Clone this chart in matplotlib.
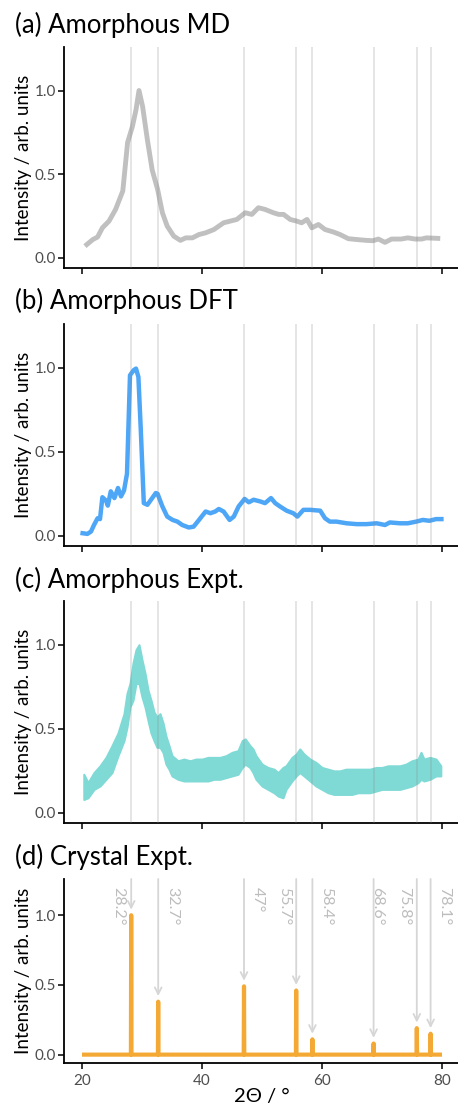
import matplotlib
matplotlib.use("Agg")
import matplotlib.pyplot as plt
import numpy as np

plt.rcParams['font.family'] = ['Lato', 'DejaVu Sans']

# ---- data ----
peak_pos = [28.2, 32.7, 47, 55.7, 58.4, 68.6, 75.8, 78.1]
peak_int = [1.0, 0.38, 0.49, 0.46, 0.11, 0.08, 0.19, 0.15]
peak_labels = ["28.2°", "32.7°", "47°", "55.7°", "58.4°", "68.6°", "75.8°", "78.1°"]
label_side = ["l", "r", "r", "l", "r", "c", "l", "r"]

md_x = [20.8, 21.8, 22.6, 23.4, 24.5, 25.6, 26.8, 27.6, 28.4, 29.0, 29.5, 30.1, 30.9,
        31.7, 32.6, 33.4, 34.2, 35.3, 36.4, 37.3, 38.4, 39.5, 40.6, 42.0, 43.6, 44.7,
        45.8, 47.2, 48.3, 49.4, 50.5, 51.9, 52.8, 53.6, 54.7, 55.8, 56.6, 57.5, 58.3,
        59.4, 60.5, 61.9, 63.0, 64.4, 65.8, 67.4, 68.5, 69.4, 70.5, 71.6, 73.2, 74.3,
        75.5, 76.6, 77.4, 79.3]
md_y = [0.08, 0.11, 0.125, 0.18, 0.22, 0.29, 0.40, 0.69, 0.785, 0.885, 1.0, 0.905, 0.705,
        0.525, 0.41, 0.27, 0.19, 0.13, 0.105, 0.12, 0.12, 0.14, 0.15, 0.17, 0.21, 0.22,
        0.23, 0.27, 0.26, 0.30, 0.29, 0.27, 0.26, 0.26, 0.23, 0.22, 0.21, 0.23, 0.18,
        0.20, 0.17, 0.155, 0.14, 0.115, 0.11, 0.105, 0.103, 0.113, 0.093, 0.113, 0.113, 0.12,
        0.113, 0.113, 0.12, 0.117]

dft_x = [20.1, 20.9, 21.5, 22.0, 22.6, 23.0, 23.4, 24.0, 24.3, 24.8, 25.4, 26.0, 26.5,
         27.0, 27.5, 28.0, 28.6, 29.0, 29.4, 29.8, 30.3, 30.9, 31.5, 32.3, 32.6, 33.4,
         34.2, 35.1, 35.9, 36.7, 37.8, 38.6, 39.5, 40.6, 41.4, 42.2, 42.8, 43.6, 44.6,
         45.3, 46.1, 47.1, 47.8, 48.6, 49.7, 50.5, 51.5, 52.2, 53.0, 54.1, 55.2, 55.9,
         56.9, 58.0, 59.7, 60.5, 61.3, 62.4, 64.1, 65.8, 67.4, 69.1, 70.5, 71.3, 73.0,
         74.3, 75.7, 76.8, 77.9, 79.0, 79.9]
dft_y = [0.016, 0.012, 0.026, 0.065, 0.105, 0.10, 0.23, 0.21, 0.18, 0.265, 0.225, 0.285, 0.235,
         0.27, 0.37, 0.955, 0.985, 0.995, 0.945, 0.63, 0.195, 0.185, 0.215, 0.255, 0.25, 0.175,
         0.115, 0.095, 0.085, 0.065, 0.05, 0.055, 0.095, 0.145, 0.135, 0.145, 0.16, 0.145, 0.095,
         0.115, 0.175, 0.22, 0.20, 0.215, 0.205, 0.195, 0.225, 0.195, 0.175, 0.15, 0.135, 0.115,
         0.155, 0.155, 0.15, 0.105, 0.085, 0.085, 0.075, 0.07, 0.07, 0.075, 0.065, 0.08, 0.075,
         0.075, 0.085, 0.095, 0.09, 0.10, 0.10]

# experimental amorphous pattern: noisy band (upper / lower envelope)
exp_x = [20.3, 21, 22, 23, 24, 25, 26, 27, 27.5, 28, 28.5, 29, 29.5, 30, 30.5, 31, 31.5,
         32, 32.5, 33, 33.5, 34, 34.5, 35, 36, 37, 38, 39, 40, 41, 42, 43, 44, 45, 46,
         46.7, 47.2, 48, 48.5, 49, 50, 51, 52, 52.7, 53.5, 54, 55, 55.7, 56.3, 57, 58,
         59, 60, 61, 62, 63, 64, 65, 66, 67, 68, 69, 70, 71, 72, 73, 74, 75, 76, 76.5,
         77, 78, 79, 79.8]
exp_hi = [0.23, 0.18, 0.24, 0.28, 0.33, 0.40, 0.475, 0.59, 0.71, 0.77, 0.89, 0.97, 1.0, 0.91,
          0.83, 0.73, 0.67, 0.60, 0.57, 0.59, 0.535, 0.455, 0.40, 0.34, 0.31, 0.32, 0.31, 0.32,
          0.32, 0.33, 0.33, 0.33, 0.34, 0.36, 0.37, 0.43, 0.44, 0.40, 0.38, 0.34, 0.29, 0.27,
          0.26, 0.24, 0.27, 0.28, 0.33, 0.35, 0.38, 0.35, 0.32, 0.30, 0.27, 0.26, 0.25, 0.25,
          0.26, 0.26, 0.26, 0.26, 0.26, 0.27, 0.27, 0.28, 0.28, 0.28, 0.29, 0.31, 0.32, 0.36,
          0.32, 0.33, 0.32, 0.28]
exp_lo = [0.08, 0.09, 0.14, 0.16, 0.20, 0.24, 0.34, 0.43, 0.51, 0.63, 0.67, 0.77, 0.77, 0.69,
          0.63, 0.55, 0.475, 0.43, 0.39, 0.39, 0.36, 0.29, 0.26, 0.22, 0.20, 0.19, 0.19, 0.19,
          0.19, 0.19, 0.20, 0.20, 0.21, 0.22, 0.23, 0.27, 0.29, 0.27, 0.24, 0.20, 0.16, 0.14,
          0.12, 0.10, 0.09, 0.14, 0.19, 0.22, 0.24, 0.22, 0.19, 0.16, 0.14, 0.12, 0.11, 0.11,
          0.11, 0.11, 0.12, 0.12, 0.12, 0.13, 0.14, 0.14, 0.14, 0.14, 0.15, 0.16, 0.18, 0.20,
          0.19, 0.20, 0.22, 0.22]

titles = ["(a) Amorphous MD", "(b) Amorphous DFT", "(c) Amorphous Expt.", "(d) Crystal Expt."]

W, H = 458, 1109
fig = plt.figure(figsize=(W / 100, H / 100), dpi=100)

boxes = [(47, 268), (324, 546), (601, 823), (879, 1063)]  # top, bottom in px
title_base = [33, 309, 588, 865]
left_px, right_px = 64, 460

axes = []
for i, (t, b) in enumerate(boxes):
    ax = fig.add_axes([left_px / W, 1 - b / H, (right_px - left_px) / W, (b - t) / H])
    ax.set_xlim(17, 83)
    ax.set_ylim(-0.06, 1.26)
    ax.set_xticks([20, 40, 60, 80])
    ax.set_yticks([0.0, 0.5, 1.0])
    ax.set_yticklabels(["0.0", "0.5", "1.0"])
    for s in ['top', 'right']:
        ax.spines[s].set_visible(False)
    for s in ['left', 'bottom']:
        ax.spines[s].set_linewidth(1.3)
        ax.spines[s].set_color('black')
    ax.tick_params(length=4, width=1.1, color='black', labelcolor='#4d4d4d', labelsize=11, pad=2)
    ax.tick_params(axis='x', pad=4)
    if i < 3:
        ax.tick_params(axis='x', labelbottom=False)
        # reference lines drawn over the data, semi-transparent
        for p in peak_pos:
            ax.axvline(p, color='#8a8a8a', alpha=0.22, lw=1.4, zorder=4)
    ax.set_ylabel("Intensity / arb. units", fontsize=13.5, labelpad=2)
    fig.text(15 / W, 1 - title_base[i] / H, titles[i], fontsize=18.5, ha='left', va='baseline')
    axes.append(ax)

# (a) MD
axes[0].plot(md_x, md_y, color='#c0c0c0', lw=3.5, solid_joinstyle='round', zorder=3)

# (b) DFT
axes[1].plot(dft_x, dft_y, color='#4ea6f7', lw=3.2, solid_joinstyle='round', zorder=3)

# (c) experiment band
axes[2].fill_between(exp_x, exp_lo, exp_hi, color='#7fd9d5', lw=1.5, edgecolor='#7fd9d5', zorder=3)

# (d) crystal peaks
ax = axes[3]
cx, cy = [20.0], [0.0]
for p, h in zip(peak_pos, peak_int):
    cx += [p - 0.05, p, p + 0.05]
    cy += [0.0, h, 0.0]
cx.append(80.0)
cy.append(0.0)
ax.plot(cx, cy, color='#f5a935', lw=3.0, solid_joinstyle='round', solid_capstyle='butt', zorder=3)

for p, h, lab, side in zip(peak_pos, peak_int, peak_labels, label_side):
    ax.annotate('', xy=(p, h + 0.04), xytext=(p, 1.26),
                arrowprops=dict(arrowstyle='->', color='#d6d6d6', lw=1.3,
                                mutation_scale=12, shrinkA=0, shrinkB=0), zorder=2)
    if side == 'l':
        off, ha = -4, 'right'
    elif side == 'r':
        off, ha = 5, 'left'
    else:
        off, ha = 2.5, 'center'
    ax.annotate(lab, xy=(p, 1.2), xytext=(off, 0), textcoords='offset points',
                rotation=-90, ha=ha, va='top', fontsize=11.5, color='#bdbdbd')

ax.set_xlabel("2Θ / °", fontsize=14.5, labelpad=0)

fig.savefig("out.png", dpi=100)
